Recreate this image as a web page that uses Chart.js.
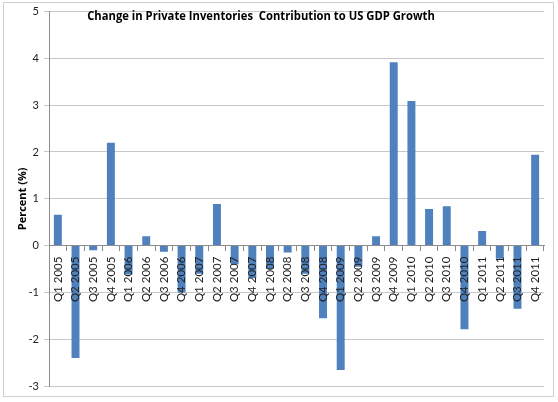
<!DOCTYPE html>
<html>
<head>
<meta charset="utf-8">
<script src="https://cdn.jsdelivr.net/npm/chart.js@4.4.0/dist/chart.umd.min.js"></script>
<style>
  html, body { margin: 0; padding: 0; background: #fff; }
  #wrap { width: 558px; height: 402px; position: relative; }
</style>
</head>
<body>
<div id="wrap"><canvas id="chart1"></canvas></div>
<script>
// quarters shown on the x axis
let quarters = ['Q1 2005', 'Q2 2005', 'Q3 2005', 'Q4 2005',
    'Q1 2006', 'Q2 2006', 'Q3 2006', 'Q4 2006',
    'Q1 2007', 'Q2 2007', 'Q3 2007', 'Q4 2007',
    'Q1 2008', 'Q2 2008', 'Q3 2008', 'Q4 2008',
    'Q1 2009', 'Q2 2009', 'Q3 2009', 'Q4 2009',
    'Q1 2010', 'Q2 2010', 'Q3 2010', 'Q4 2010',
    'Q1 2011', 'Q2 2011', 'Q3 2011', 'Q4 2011'];

// contribution of inventories to GDP growth, percent
let contribution = [0.66, -2.40, -0.10, 2.20,
    -0.62, 0.20, -0.13, -1.00,
    -0.60, 0.89, -0.40, -0.70,
    -0.50, -0.15, -0.60, -1.55,
    -2.66, -0.45, 0.20, 3.92,
    3.09, 0.78, 0.84, -1.79,
    0.31, -0.28, -1.35, 1.94];

let yMin = -3, yMax = 5;
let chartTitle = 'Change in Private Inventories  Contribution to US GDP Growth';
let yTitle = 'Percent (%)';

var fontName = 'Lato, "Open Sans", sans-serif';
var boldName = '"Open Sans", sans-serif';

// Excel-style title sitting over the plot area, plus the outer frame
var overlay = {
    id: 'overlay',
    beforeDraw: function(chart) {
        var c = chart.ctx;
        c.save();
        c.fillStyle = '#fff';
        c.fillRect(0, 0, chart.width, chart.height);
        c.restore();
    },
    afterDraw: function(chart) {
        var c = chart.ctx;
        c.save();
        c.strokeStyle = '#d0d0d0';
        c.lineWidth = 1;
        c.strokeRect(3.5, 2.5, 550, 394);
        c.fillStyle = '#000';
        c.font = 'bold 13px ' + boldName;
        c.textAlign = 'center';
        c.textBaseline = 'middle';
        // squeeze a bit, the original font is narrower
        c.translate(261, 16);
        c.scale(0.865, 1);
        c.fillText(chartTitle, 0, 0);
        c.restore();
    }
};

var ctx = document.getElementById('chart1').getContext('2d');
var chart = new Chart(ctx, {
    type: 'bar',
    data: {
        labels: quarters,
        datasets: [{
            label: 'Contribution',
            data: contribution,
            backgroundColor: '#4F81BD',
            borderWidth: 0,
            categoryPercentage: 1,
            barPercentage: 0.45
        }]
    },
    options: {
        responsive: true,
        maintainAspectRatio: false,
        animation: false,
        layout: { padding: { left: 4, right: 14, top: 10, bottom: 16 } },
        plugins: {
            legend: { display: false },
            tooltip: { enabled: false }
        },
        scales: {
            x: {
                position: { y: 0 },
                grid: {
                    offset: true,
                    drawOnChartArea: false,
                    drawTicks: true,
                    tickLength: 5,
                    color: '#8c8c8c',
                    z: 1
                },
                border: { color: '#8c8c8c', z: 1 },
                ticks: {
                    autoSkip: false,
                    minRotation: 90,
                    maxRotation: 90,
                    padding: 6,
                    color: '#222',
                    z: 1,
                    font: { family: fontName, size: 11.5 }
                }
            },
            y: {
                min: yMin,
                max: yMax,
                afterFit: function(scale) { scale.width = 45; },
                ticks: {
                    stepSize: 1,
                    padding: 5,
                    color: '#222',
                    font: { family: fontName, size: 11 }
                },
                grid: {
                    color: '#c8c8c8',
                    tickLength: 5
                },
                border: { color: '#8c8c8c' },
                title: {
                    display: true,
                    text: yTitle,
                    color: '#000',
                    padding: { top: 12, bottom: 0 },
                    font: { family: boldName, size: 11, weight: 'bold' }
                }
            }
        }
    },
    plugins: [overlay]
});
</script>
</body>
</html>
